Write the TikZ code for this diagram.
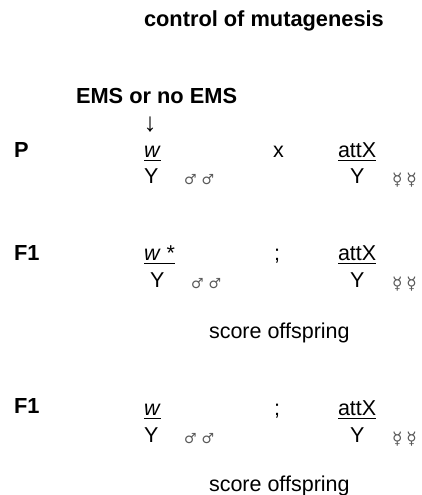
\documentclass[tikz,border=0pt]{standalone}
\usepackage{fontspec}
\setmainfont{Liberation Sans}
\newfontfamily\symfont{DejaVu Sans}
\begin{document}
\begin{tikzpicture}[x=1pt,y=-1pt,
  every node/.style={inner sep=0pt, outer sep=0pt, anchor=base west},
  hdr/.style={font=\fontsize{21.8}{24}\selectfont\bfseries},
  txt/.style={font=\fontsize{21.5}{24}\selectfont},
  arrtxt/.style={font=\fontsize{26}{28}\selectfont},
  msym/.style={font=\symfont\fontsize{14}{16}\selectfont, text=black!65},
  fsym/.style={font=\symfont\fontsize{17}{19}\selectfont, text=black!65},
  uline/.style={line width=1.2pt},
]
\useasboundingbox (0,0) rectangle (422,495);
% title
\node[hdr] (title) at (144,27) {control of mutagenesis};
\node[hdr] (ems) at (76,103) {EMS or no EMS};
\node[arrtxt, anchor=base] (arr) at (150,131) {↓};
% P row
\node[hdr] (P) at (14,157) {P};
\node[txt] (pw) at (144,157) {\textit{w}};
\node[txt] (pY) at (144,183) {Y};
\node[msym] (pm) at (184,184) {♂\hspace{5pt}♂};
\node[txt] (px) at (273,157) {x};
\node[txt] (pa) at (338,157) {attX};
\node[txt] (paY) at (350,183) {Y};
\node[fsym] (pf) at (392,185) {☿\hspace{4pt}☿};
% F1 row
\node[hdr] (F1a) at (14,260) {F1};
\node[txt] (fw) at (144,260) {\textit{w} *};
\node[txt] (fY) at (150,287) {Y};
\node[msym] (fm) at (191,288) {♂\hspace{5pt}♂};
\node[txt] (fs) at (274,260) {;};
\node[txt] (fa) at (338,260) {attX};
\node[txt] (faY) at (350,287) {Y};
\node[fsym] (ff) at (392,289) {☿\hspace{4pt}☿};
\node[txt] (score1) at (209,338) {score offspring};
% F1 second
\node[hdr] (F1b) at (14,413) {F1};
\node[txt] (gw) at (144,415) {\textit{w}};
\node[txt] (gY) at (144,442) {Y};
\node[msym] (gm) at (184,443) {♂\hspace{5pt}♂};
\node[txt] (gs) at (274,415) {;};
\node[txt] (ga) at (338,415) {attX};
\node[txt] (gaY) at (350,442) {Y};
\node[fsym] (gf) at (392,444) {☿\hspace{4pt}☿};
\node[txt] (score2) at (209,491) {score offspring};
% underlines
\foreach \n in {pw,pa,fw,fa,gw,ga}
  \draw[uline] ([yshift=-3.5pt]\n.base west) -- ([yshift=-3.5pt]\n.base east);
\end{tikzpicture}
\end{document}
